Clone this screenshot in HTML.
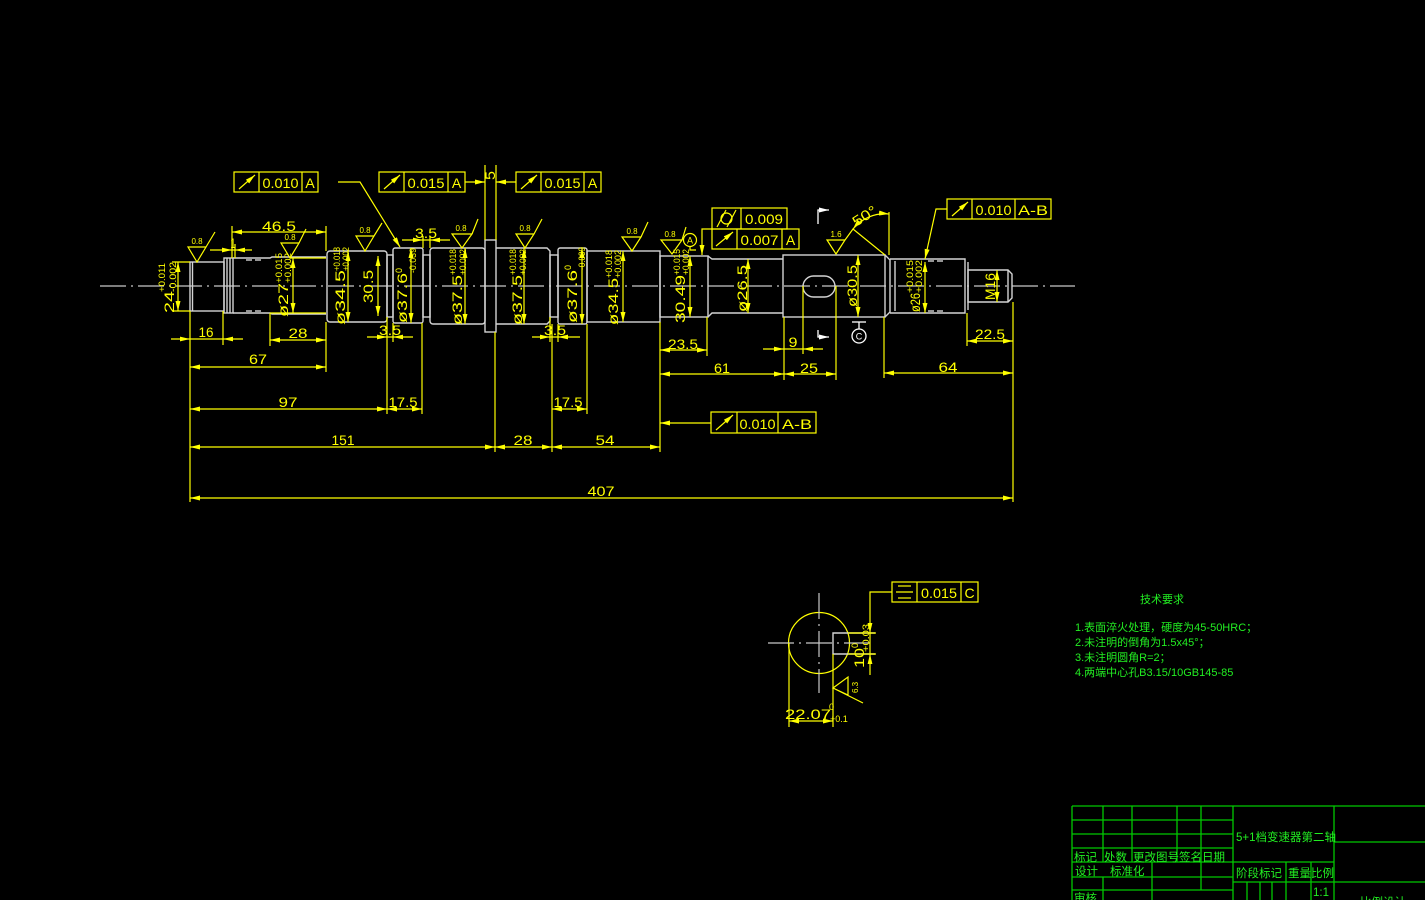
<!DOCTYPE html>
<html><head><meta charset="utf-8"><style>
html,body{margin:0;padding:0;background:#000;}
svg{display:block;}
.y{stroke:#ffff00;stroke-width:1.2;fill:none;}
.d{marker-start:url(#m);marker-end:url(#m);}
.e{marker-end:url(#m);}
.w{stroke:#d4d4d4;stroke-width:1.4;fill:none;}
.c{stroke:#c8c8c8;stroke-width:1.2;fill:none;stroke-dasharray:26 5 2 5;}
.g{stroke:#00c800;stroke-width:1.3;fill:none;}
text{font-family:"Liberation Sans",sans-serif;}
.t{fill:#ffff00;font-size:14px;}
.s{fill:#ffff00;font-size:8px;}
.k{fill:#ffff00;font-size:9px;}
.gt{fill:#22ee22;font-family:"Liberation Sans","Noto Sans CJK SC",sans-serif;font-size:11px;}
.tb{fill:#22ee22;font-family:"Liberation Sans","Noto Sans CJK SC",sans-serif;font-size:11.5px;}
</style></head><body>
<svg width="1425" height="900" viewBox="0 0 1425 900" xmlns="http://www.w3.org/2000/svg">
<defs>
<marker id="m" viewBox="0 0 10 5" refX="10" refY="2.5" markerWidth="10" markerHeight="5" markerUnits="userSpaceOnUse" orient="auto-start-reverse"><path d="M0,0L10,2.5L0,5z" fill="#ffff00"/></marker>
<marker id="mw" viewBox="0 0 10 5" refX="10" refY="2.5" markerWidth="10" markerHeight="5" markerUnits="userSpaceOnUse" orient="auto"><path d="M0,0L10,2.5L0,5z" fill="#ffffff"/></marker>
</defs>
<rect width="1425" height="900" fill="#000"/>

<!-- centerline -->
<line class="c" x1="100" y1="286" x2="1075" y2="286"/>

<!-- shaft outline -->
<g class="w">
<rect x="190" y="262" width="34" height="49"/>
<line x1="192.5" y1="262" x2="192.5" y2="311"/>
<rect x="224" y="258" width="9" height="55"/>
<line x1="227" y1="258" x2="227" y2="313"/>
<line x1="230" y1="258" x2="230" y2="313"/>
<path d="M233,258 H270 L272,257 H326 M233,313 H270 L272,314 H326"/>
<line x1="246" y1="260" x2="252" y2="260"/><line x1="255" y1="260" x2="261" y2="260"/>
<line x1="246" y1="311" x2="252" y2="311"/><line x1="255" y1="311" x2="261" y2="311"/>
<rect x="327" y="251" width="60" height="71" rx="3"/>
<rect x="387" y="255" width="6" height="62"/>
<rect x="393" y="248" width="30" height="75" rx="2"/>
<rect x="423" y="255" width="7" height="62"/>
<rect x="430" y="248" width="55" height="76" rx="3"/>
<rect x="485" y="240" width="11" height="92"/>
<path d="M496,248 H547 L550,251 V321 L547,324 H496"/>
<rect x="550" y="255" width="8" height="62"/>
<rect x="558" y="248" width="29" height="76" rx="2"/>
<rect x="587" y="251" width="73" height="71"/>
<rect x="660" y="256" width="48" height="61"/>
<path d="M708,256 L712,259 H783 M708,317 L712,313 H783"/>
<rect x="783" y="255" width="102" height="62"/>
<path d="M885,255 L890,260 V312 L885,317"/>
<path d="M890,259 H965 V313 H890"/>
<line x1="895" y1="261" x2="895" y2="311"/>
<line x1="928" y1="261" x2="934" y2="261"/><line x1="937" y1="261" x2="943" y2="261"/>
<line x1="928" y1="311" x2="934" y2="311"/><line x1="937" y1="311" x2="943" y2="311"/>
<line x1="968" y1="262" x2="968" y2="310"/>
<path d="M968,270 H1008 L1012,274 V298 L1008,302 H968 Z"/>
<line x1="1008" y1="270" x2="1008" y2="302"/>
<rect x="803" y="276" width="32" height="21" rx="10.5"/>
</g>

<!-- extension lines -->
<g class="y">
<line x1="190" y1="311" x2="190" y2="502"/>
<line x1="223" y1="311" x2="223" y2="345"/>
<line x1="232" y1="226" x2="232" y2="258"/>
<line x1="235" y1="244" x2="235" y2="258"/>
<line x1="270" y1="313" x2="270" y2="346"/>
<line x1="326" y1="226" x2="326" y2="251"/>
<line x1="326" y1="322" x2="326" y2="372"/>
<line x1="387" y1="317" x2="387" y2="414"/>
<line x1="393" y1="323" x2="393" y2="342"/>
<line x1="422" y1="323" x2="422" y2="414"/>
<line x1="423" y1="236" x2="423" y2="248"/>
<line x1="430" y1="236" x2="430" y2="248"/>
<line x1="485" y1="165" x2="485" y2="240"/>
<line x1="496" y1="165" x2="496" y2="240"/>
<line x1="495" y1="332" x2="495" y2="452"/>
<line x1="550" y1="317" x2="550" y2="342"/>
<line x1="552" y1="324" x2="552" y2="452"/>
<line x1="558" y1="324" x2="558" y2="342"/>
<line x1="587" y1="324" x2="587" y2="414"/>
<line x1="660" y1="322" x2="660" y2="452"/>
<line x1="707" y1="317" x2="707" y2="356"/>
<line x1="784" y1="317" x2="784" y2="380"/>
<line x1="803" y1="286" x2="803" y2="354"/>
<line x1="836" y1="286" x2="836" y2="380"/>
<line x1="884" y1="317" x2="884" y2="378"/>
<line x1="889" y1="212" x2="889" y2="255"/>
<line x1="967" y1="313" x2="967" y2="346"/>
<line x1="1013" y1="302" x2="1013" y2="502"/>
<!-- short horizontal ext ticks for diameters -->
<line x1="172" y1="262" x2="190" y2="262"/>
<line x1="172" y1="311" x2="190" y2="311"/>
<line x1="290" y1="258" x2="326" y2="258"/>
<line x1="270" y1="313" x2="326" y2="313"/>
</g>

<!-- horizontal dimension lines (inside arrows) -->
<g class="y d">
<line x1="270" y1="340" x2="326" y2="340"/>
<line x1="190" y1="367" x2="326" y2="367"/>
<line x1="190" y1="409" x2="387" y2="409"/>
<line x1="387" y1="409" x2="422" y2="409"/>
<line x1="552" y1="409" x2="587" y2="409"/>
<line x1="190" y1="447" x2="495" y2="447"/>
<line x1="495" y1="447" x2="552" y2="447"/>
<line x1="552" y1="447" x2="660" y2="447"/>
<line x1="190" y1="498" x2="1013" y2="498"/>
<line x1="660" y1="350" x2="707" y2="350"/>
<line x1="660" y1="374" x2="784" y2="374"/>
<line x1="784" y1="374" x2="836" y2="374"/>
<line x1="884" y1="373" x2="1013" y2="373"/>
<line x1="967" y1="341" x2="1013" y2="341"/>
<line x1="232" y1="232" x2="326" y2="232"/>
</g>

<!-- outside-arrow dims -->
<g class="y">
<line x1="171" y1="339" x2="243" y2="339"/>
<line x1="763" y1="349" x2="823" y2="349"/>
<line x1="210" y1="250" x2="252" y2="250"/>
<line x1="402" y1="240" x2="450" y2="240"/>
<line x1="367" y1="337" x2="413" y2="337"/>
<line x1="532" y1="337" x2="580" y2="337"/>
</g>
<g fill="#ffff00">
<polygon points="190,339 180,336.6 180,341.4"/><polygon points="223,339 233,336.6 233,341.4"/>
<polygon points="784,349 774,346.6 774,351.4"/><polygon points="803,349 813,346.6 813,351.4"/>
<polygon points="232,250 222,247.6 222,252.4"/><polygon points="235,250 245,247.6 245,252.4"/>
<polygon points="423,240 413,237.6 413,242.4"/><polygon points="430,240 440,237.6 440,242.4"/>
<polygon points="387,337 377,334.6 377,339.4"/><polygon points="393,337 403,334.6 403,339.4"/>
<polygon points="550,337 540,334.6 540,339.4"/><polygon points="558,337 568,334.6 568,339.4"/>
</g>

<!-- vertical diameter dims -->
<g class="y d">
<line x1="178" y1="262" x2="178" y2="311"/>
<line x1="293" y1="258" x2="293" y2="313"/>
<line x1="348" y1="251" x2="348" y2="322"/>
<line x1="378" y1="256" x2="378" y2="316"/>
<line x1="411" y1="248" x2="411" y2="323"/>
<line x1="465" y1="248" x2="465" y2="324"/>
<line x1="524" y1="248" x2="524" y2="324"/>
<line x1="582" y1="248" x2="582" y2="324"/>
<line x1="623" y1="251" x2="623" y2="322"/>
<line x1="690" y1="256" x2="690" y2="317"/>
<line x1="748" y1="259" x2="748" y2="313"/>
<line x1="858" y1="255" x2="858" y2="317"/>
<line x1="925" y1="262" x2="925" y2="313"/>
<line x1="997" y1="270" x2="997" y2="302"/>
</g>

<!-- horizontal dim texts -->
<g class="t" text-anchor="middle">
<text x="279" y="231" textLength="34" lengthAdjust="spacingAndGlyphs">46.5</text>
<text x="233" y="248" textLength="5" lengthAdjust="spacingAndGlyphs">1</text>
<text x="426" y="238" textLength="22" lengthAdjust="spacingAndGlyphs">3.5</text>
<text x="206" y="337" textLength="15" lengthAdjust="spacingAndGlyphs">16</text>
<text x="298" y="338" textLength="19" lengthAdjust="spacingAndGlyphs">28</text>
<text x="390" y="335" textLength="22" lengthAdjust="spacingAndGlyphs">3.5</text>
<text x="555" y="335" textLength="22" lengthAdjust="spacingAndGlyphs">3.5</text>
<text x="258" y="364" textLength="18" lengthAdjust="spacingAndGlyphs">67</text>
<text x="288" y="407" textLength="19" lengthAdjust="spacingAndGlyphs">97</text>
<text x="403" y="407" textLength="29" lengthAdjust="spacingAndGlyphs">17.5</text>
<text x="568" y="407" textLength="29" lengthAdjust="spacingAndGlyphs">17.5</text>
<text x="343" y="445" textLength="23" lengthAdjust="spacingAndGlyphs">151</text>
<text x="523" y="445" textLength="19" lengthAdjust="spacingAndGlyphs">28</text>
<text x="605" y="445" textLength="19" lengthAdjust="spacingAndGlyphs">54</text>
<text x="601" y="496" textLength="27" lengthAdjust="spacingAndGlyphs">407</text>
<text x="683" y="349" textLength="30" lengthAdjust="spacingAndGlyphs">23.5</text>
<text x="722" y="373" textLength="16" lengthAdjust="spacingAndGlyphs">61</text>
<text x="793" y="347" textLength="9" lengthAdjust="spacingAndGlyphs">9</text>
<text x="809" y="373" textLength="18" lengthAdjust="spacingAndGlyphs">25</text>
<text x="948" y="372" textLength="19" lengthAdjust="spacingAndGlyphs">64</text>
<text x="990" y="339" textLength="30" lengthAdjust="spacingAndGlyphs">22.5</text>
</g>

<!-- rotated diameter texts -->
<g class="t">
<text transform="translate(174,313) rotate(-90)" textLength="22" lengthAdjust="spacingAndGlyphs">24</text>
<text class="k" transform="translate(165,292) rotate(-90)" textLength="29" lengthAdjust="spacingAndGlyphs">+0.011</text>
<text class="k" transform="translate(176,292) rotate(-90)" textLength="30" lengthAdjust="spacingAndGlyphs">-0.002</text>

<text transform="translate(288,317) rotate(-90)" textLength="34" lengthAdjust="spacingAndGlyphs">ø27</text>
<text class="k" transform="translate(282,283) rotate(-90)" textLength="30" lengthAdjust="spacingAndGlyphs">+0.015</text>
<text class="k" transform="translate(291,283) rotate(-90)" textLength="30" lengthAdjust="spacingAndGlyphs">+0.002</text>

<text transform="translate(345,325) rotate(-90)" textLength="55" lengthAdjust="spacingAndGlyphs">ø34.5</text>
<text class="k" transform="translate(340,271) rotate(-90)" textLength="24" lengthAdjust="spacingAndGlyphs">+0.018</text>
<text class="k" transform="translate(349,271) rotate(-90)" textLength="24" lengthAdjust="spacingAndGlyphs">+0.002</text>

<text transform="translate(373,303) rotate(-90)" textLength="33" lengthAdjust="spacingAndGlyphs">30.5</text>

<text transform="translate(407,323) rotate(-90)" textLength="50" lengthAdjust="spacingAndGlyphs">ø37.6</text>
<text class="k" transform="translate(402,273) rotate(-90)">0</text>
<text class="k" transform="translate(416,273) rotate(-90)" textLength="25" lengthAdjust="spacingAndGlyphs">-0.039</text>

<text transform="translate(462,325) rotate(-90)" textLength="50" lengthAdjust="spacingAndGlyphs">ø37.5</text>
<text class="k" transform="translate(456,275) rotate(-90)" textLength="26" lengthAdjust="spacingAndGlyphs">+0.018</text>
<text class="k" transform="translate(466,275) rotate(-90)" textLength="26" lengthAdjust="spacingAndGlyphs">+0.002</text>

<text transform="translate(522,325) rotate(-90)" textLength="50" lengthAdjust="spacingAndGlyphs">ø37.5</text>
<text class="k" transform="translate(516,275) rotate(-90)" textLength="26" lengthAdjust="spacingAndGlyphs">+0.018</text>
<text class="k" transform="translate(526,275) rotate(-90)" textLength="26" lengthAdjust="spacingAndGlyphs">+0.002</text>

<text transform="translate(577,323) rotate(-90)" textLength="53" lengthAdjust="spacingAndGlyphs">ø37.6</text>
<text class="k" transform="translate(571,270) rotate(-90)">0</text>
<text class="k" transform="translate(585,270) rotate(-90)" textLength="23" lengthAdjust="spacingAndGlyphs">-0.039</text>

<text transform="translate(618,325) rotate(-90)" textLength="47" lengthAdjust="spacingAndGlyphs">ø34.5</text>
<text class="k" transform="translate(612,278) rotate(-90)" textLength="28" lengthAdjust="spacingAndGlyphs">+0.018</text>
<text class="k" transform="translate(621,278) rotate(-90)" textLength="28" lengthAdjust="spacingAndGlyphs">+0.002</text>

<text transform="translate(685,323) rotate(-90)" textLength="48" lengthAdjust="spacingAndGlyphs">30.49</text>
<text class="k" transform="translate(680,275) rotate(-90)" textLength="26" lengthAdjust="spacingAndGlyphs">+0.015</text>
<text class="k" transform="translate(689,275) rotate(-90)" textLength="26" lengthAdjust="spacingAndGlyphs">+0.002</text>

<text transform="translate(747,312) rotate(-90)" textLength="47" lengthAdjust="spacingAndGlyphs">ø26.5</text>
<text transform="translate(857,307) rotate(-90)" textLength="42" lengthAdjust="spacingAndGlyphs">ø30.5</text>

<text transform="translate(920,312) rotate(-90)" textLength="19" lengthAdjust="spacingAndGlyphs">ø26</text>
<text class="k" transform="translate(913,293) rotate(-90)" textLength="33" lengthAdjust="spacingAndGlyphs">+0.015</text>
<text class="k" transform="translate(922,293) rotate(-90)" textLength="33" lengthAdjust="spacingAndGlyphs">+0.002</text>

<text transform="translate(995,300) rotate(-90)" textLength="27" lengthAdjust="spacingAndGlyphs">M16</text>
<text transform="translate(495,180) rotate(-90)" textLength="9" lengthAdjust="spacingAndGlyphs">5</text>
</g>

<!-- feature control frames -->
<g class="y">
<rect x="234" y="172" width="84" height="20"/><line x1="259" y1="172" x2="259" y2="192"/><line x1="302" y1="172" x2="302" y2="192"/>
<rect x="379" y="172" width="86" height="20"/><line x1="404" y1="172" x2="404" y2="192"/><line x1="448" y1="172" x2="448" y2="192"/>
<rect x="516" y="172" width="85" height="20"/><line x1="541" y1="172" x2="541" y2="192"/><line x1="584" y1="172" x2="584" y2="192"/>
<rect x="712" y="208" width="75" height="21"/><line x1="741" y1="208" x2="741" y2="229"/>
<rect x="712" y="229" width="87" height="20"/><line x1="737" y1="229" x2="737" y2="249"/><line x1="782" y1="229" x2="782" y2="249"/>
<rect x="947" y="199" width="104" height="20"/><line x1="972" y1="199" x2="972" y2="219"/><line x1="1015" y1="199" x2="1015" y2="219"/>
<rect x="711" y="412" width="105" height="21"/><line x1="737" y1="412" x2="737" y2="433"/><line x1="778" y1="412" x2="778" y2="433"/>
<rect x="892" y="582" width="86" height="20"/><line x1="917" y1="582" x2="917" y2="602"/><line x1="961" y1="582" x2="961" y2="602"/>
<!-- symbols: runout arrows -->
<line class="e" x1="239" y1="189" x2="255" y2="175"/>
<line class="e" x1="384" y1="189" x2="400" y2="175"/>
<line class="e" x1="521" y1="189" x2="537" y2="175"/>
<line class="e" x1="716" y1="246" x2="733" y2="232"/>
<line class="e" x1="952" y1="216" x2="968" y2="202"/>
<line class="e" x1="716" y1="430" x2="733" y2="415"/>
<!-- cylindricity -->
<circle cx="726.5" cy="218.5" r="5.5"/>
<line x1="717" y1="227" x2="726" y2="210"/><line x1="727" y1="227" x2="736" y2="210"/>
<!-- symmetry -->
<line x1="898" y1="586" x2="911" y2="586"/><line x1="896" y1="592" x2="913" y2="592"/><line x1="898" y1="598" x2="911" y2="598"/>
<!-- leaders -->
<path class="e" d="M338,182 H360 L400,247"/>
<line class="e" x1="465" y1="182" x2="485" y2="182"/>
<line class="e" x1="516" y1="182" x2="496" y2="182"/>
<path class="e" d="M712,229 H702 V255"/>
<path class="e" d="M947,209 H936 L925,259"/>
<line class="e" x1="711" y1="423" x2="660" y2="423"/>
<path d="M892,592 H870 V620"/>
</g>
<g class="t" text-anchor="middle">
<text x="280.5" y="188" textLength="36" lengthAdjust="spacingAndGlyphs">0.010</text><text x="310" y="188">A</text>
<text x="426" y="188" textLength="37" lengthAdjust="spacingAndGlyphs">0.015</text><text x="456.5" y="188">A</text>
<text x="562.5" y="188" textLength="36" lengthAdjust="spacingAndGlyphs">0.015</text><text x="592.5" y="188">A</text>
<text x="764" y="224" textLength="38" lengthAdjust="spacingAndGlyphs">0.009</text>
<text x="759.5" y="245" textLength="38" lengthAdjust="spacingAndGlyphs">0.007</text><text x="790.5" y="245">A</text>
<text x="993.5" y="215" textLength="36" lengthAdjust="spacingAndGlyphs">0.010</text><text x="1033" y="215" textLength="30" lengthAdjust="spacingAndGlyphs">A-B</text>
<text x="757.5" y="429" textLength="36" lengthAdjust="spacingAndGlyphs">0.010</text><text x="797" y="429" textLength="30" lengthAdjust="spacingAndGlyphs">A-B</text>
<text x="939" y="598" textLength="36" lengthAdjust="spacingAndGlyphs">0.015</text><text x="969.5" y="598">C</text>
</g>

<!-- surface finish symbols -->
<g class="y">
<path d="M188,247 H206 L197,262 Z M206,247 L215,232"/>
<path d="M281,243 H299 L290,258 Z M299,243 L306,229"/>
<path d="M356,236 H374 L365,251 Z M374,236 L382,223"/>
<path d="M452,234 H472 L462,248 Z M472,234 L478,219"/>
<path d="M516,234 H534 L525,248 Z M534,234 L542,219"/>
<path d="M622,237 H641 L632,251 Z M641,237 L648,222"/>
<path d="M661,240 H682 L672,254 Z M682,240 L686,227"/>
<path d="M827,240 H845 L836,254 Z M845,240 L853,229 L885,255"/>
<circle cx="690" cy="240" r="6.5"/>
<path d="M690,246.5 V250 H696"/>
</g>
<g class="s" text-anchor="middle">
<text x="197" y="244">0.8</text>
<text x="290" y="240">0.8</text>
<text x="365" y="233">0.8</text>
<text x="461" y="231">0.8</text>
<text x="525" y="231">0.8</text>
<text x="632" y="234">0.8</text>
<text x="670" y="237">0.8</text>
<text x="836" y="237">1.6</text>
<text x="690" y="243.5" font-size="9">A</text>
</g>

<!-- 50 degree -->
<path class="y d" d="M853,229 A41,41 0 0 1 889,214"/>
<text class="t" transform="translate(867,220) rotate(-32)" text-anchor="middle" textLength="26" lengthAdjust="spacingAndGlyphs">50°</text>

<!-- section marks (white) -->
<g stroke="#ffffff" stroke-width="1.3" fill="none">
<path d="M818,224 V210 H829" marker-end="url(#mw)"/>
<path d="M818,330 V337 H829" marker-end="url(#mw)"/>
<line x1="852" y1="322" x2="866" y2="322"/>
<line x1="859" y1="322" x2="859" y2="329"/>
<circle cx="859" cy="336" r="7"/>
</g>
<text x="859" y="339.5" fill="#fff" font-size="9" text-anchor="middle">C</text>

<!-- section view -->
<circle cx="819" cy="643" r="30.5" class="y"/>
<line class="c" x1="819" y1="593" x2="819" y2="693"/>
<line class="c" x1="768" y1="643" x2="872" y2="643"/>
<path class="w" d="M875,633 H833 V654 H875"/>
<g class="y">
<line x1="848" y1="633" x2="876" y2="633"/>
<line x1="848" y1="654" x2="876" y2="654"/>
<line x1="870" y1="620" x2="870" y2="675"/>
<line x1="833" y1="654" x2="833" y2="727"/>
<line x1="789" y1="643" x2="789" y2="727"/>
<line class="d" x1="789" y1="721" x2="833" y2="721"/>
<path d="M833,688 L848,677 V695 Z M833,688 L863,703"/>
</g>
<g fill="#ffff00">
<polygon points="870,633 867.6,623 872.4,623"/>
<polygon points="870,654 867.6,664 872.4,664"/>
</g>
<text class="t" transform="translate(864,668) rotate(-90)" textLength="20" lengthAdjust="spacingAndGlyphs">10</text>
<text class="k" transform="translate(858,648) rotate(-90)">0</text>
<text class="k" transform="translate(869,652) rotate(-90)" textLength="28" lengthAdjust="spacingAndGlyphs">+0.03</text>
<text class="s" transform="translate(858,693) rotate(-90)">6.3</text>
<text class="t" x="808" y="719" text-anchor="middle" font-size="16" textLength="46" lengthAdjust="spacingAndGlyphs">22.07</text>
<text class="k" x="829" y="710">0</text>
<text class="k" x="830" y="722">+0.1</text>

<!-- technical requirements -->
<text class="gt" x="1162" y="603" text-anchor="middle" font-size="12">技术要求</text>
<text class="gt" x="1075" y="631">1.表面淬火处理，硬度为45-50HRC；</text>
<text class="gt" x="1075" y="646">2.未注明的倒角为1.5x45°；</text>
<text class="gt" x="1075" y="661">3.未注明圆角R=2；</text>
<text class="gt" x="1075" y="676">4.两端中心孔B3.15/10GB145-85</text>

<!-- title block -->
<g class="g">
<line x1="1072" y1="806" x2="1425" y2="806"/>
<line x1="1072" y1="820" x2="1233" y2="820"/>
<line x1="1072" y1="834" x2="1233" y2="834"/>
<line x1="1072" y1="848" x2="1233" y2="848"/>
<line x1="1072" y1="862" x2="1334" y2="862"/>
<line x1="1072" y1="877" x2="1233" y2="877"/>
<line x1="1072" y1="890" x2="1233" y2="890"/>
<line x1="1334" y1="842" x2="1425" y2="842"/>
<line x1="1233" y1="882" x2="1425" y2="882"/>
<line x1="1072" y1="806" x2="1072" y2="900"/>
<line x1="1103" y1="806" x2="1103" y2="862"/>
<line x1="1103" y1="877" x2="1103" y2="900"/>
<line x1="1132" y1="806" x2="1132" y2="862"/>
<line x1="1177" y1="806" x2="1177" y2="862"/>
<line x1="1201" y1="806" x2="1201" y2="890"/>
<line x1="1152" y1="862" x2="1152" y2="900"/>
<line x1="1233" y1="806" x2="1233" y2="900"/>
<line x1="1334" y1="806" x2="1334" y2="900"/>
<line x1="1286" y1="862" x2="1286" y2="900"/>
<line x1="1311" y1="862" x2="1311" y2="900"/>
<line x1="1247" y1="882" x2="1247" y2="900"/>
<line x1="1260" y1="882" x2="1260" y2="900"/>
<line x1="1272" y1="882" x2="1272" y2="900"/>
</g>
<text class="tb" x="1236" y="841">5+1档变速器第二轴</text>
<text class="tb" x="1074" y="861">标记</text>
<text class="tb" x="1104" y="861">处数</text>
<text class="tb" x="1133" y="861">更改图号签名日期</text>
<text class="tb" x="1075" y="875">设计</text>
<text class="tb" x="1110" y="875">标准化</text>
<text class="tb" x="1236" y="877">阶段标记</text>
<text class="tb" x="1288" y="877">重量比例</text>
<text class="tb" x="1313" y="896">1:1</text>
<text class="tb" x="1074" y="902">审核</text>
<text class="tb" x="1360" y="906">比例设计</text>
</svg>
</body></html>
